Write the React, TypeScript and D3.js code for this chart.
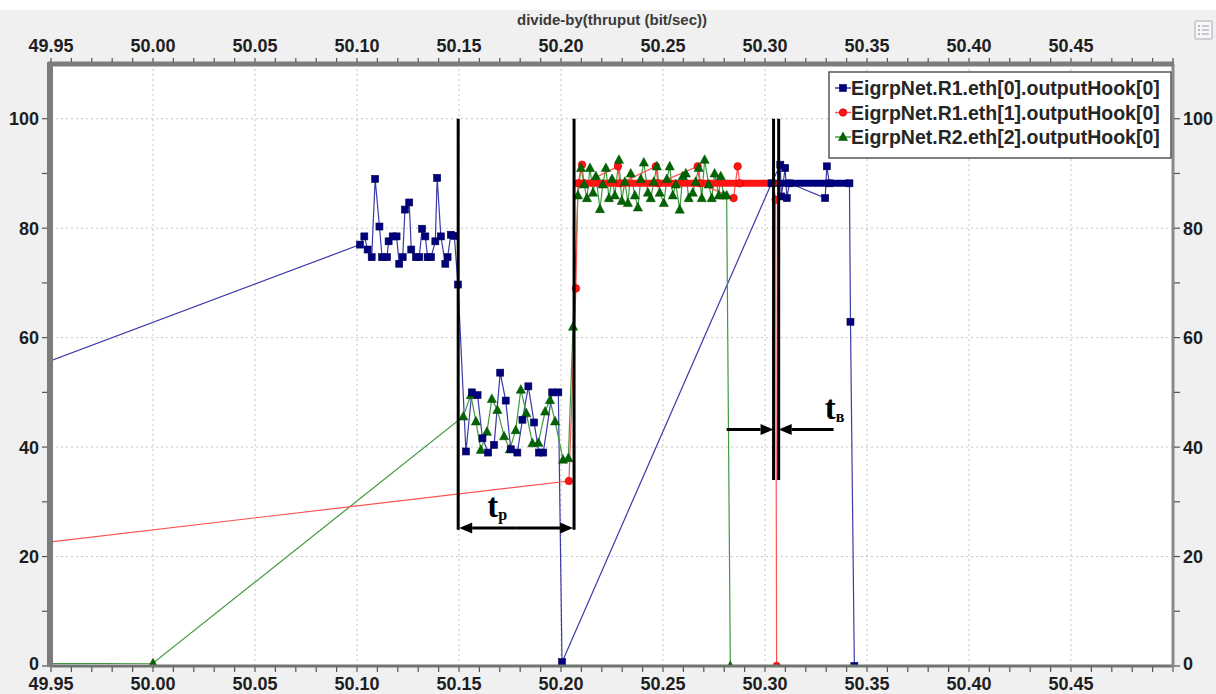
import React from 'react';
import * as d3 from 'd3';

const W = 1216;
const H = 694;
const plot = { left: 51, right: 1173, top: 64, bottom: 666 };

const xDomain: [number, number] = [49.95, 50.5];
const yDomain: [number, number] = [0, 110];

const xMajorTicks = [49.95, 50.0, 50.05, 50.1, 50.15, 50.2, 50.25, 50.3, 50.35, 50.4, 50.45];
const xTickLabels = ['49.95', '50.00', '50.05', '50.10', '50.15', '50.20', '50.25', '50.30', '50.35', '50.40', '50.45'];
const yMajorTicks = [0, 20, 40, 60, 80, 100];
const yTickLabels = ['0', '20', '40', '60', '80', '100'];
const yMinorTicks = [10, 30, 50, 70, 90];

const chartTitle = 'divide-by(thruput (bit/sec))';
const seriesNames = [
  'EigrpNet.R1.eth[0].outputHook[0]',
  'EigrpNet.R1.eth[1].outputHook[0]',
  'EigrpNet.R2.eth[2].outputHook[0]',
];

// R1 eth[0]
const eth0Points: [number, number][] = [
  [49.9, 48.8],
  [50.1015, 77], [50.1036, 78.5], [50.1052, 76.1], [50.1072, 74.7], [50.1089, 89],
  [50.111, 80.3], [50.1123, 74.7], [50.1147, 74.7], [50.1155, 77.6], [50.1175, 78.5],
  [50.1194, 78.5], [50.1207, 73.5], [50.1224, 74.7], [50.1235, 83.4], [50.1256, 84.7],
  [50.1266, 76.1], [50.1289, 74.7], [50.1305, 74.7], [50.1319, 79.9], [50.1335, 78.5],
  [50.1346, 74.7], [50.1363, 74.7], [50.1384, 77.6], [50.1393, 89.2], [50.1411, 78.5],
  [50.1433, 73.5], [50.1444, 74.7], [50.146, 78.8], [50.1477, 78.6], [50.1495, 69.7],
  [50.1534, 39.2], [50.1563, 50], [50.1591, 49.5], [50.1615, 41.6], [50.1643, 39],
  [50.1672, 40.4], [50.1702, 53.6], [50.1729, 48.5], [50.1754, 39.6], [50.1786, 39],
  [50.1811, 45], [50.184, 51.1], [50.1868, 44.5], [50.1892, 39], [50.1913, 39],
  [50.1957, 50], [50.1987, 50], [50.2005, 0.7],
  [50.3032, 88.2], [50.3075, 91.6], [50.308, 85.8], [50.3099, 91], [50.3107, 85.5],
  [50.312, 88.2], [50.3295, 85.5], [50.3303, 91.3], [50.3316, 88.2], [50.3414, 88.2],
  [50.3419, 62.9], [50.3438, 0],
];

// R1 eth[1]
const eth1Points: [number, number][] = [
  [49.9, 20.5], [50.2039, 33.8], [50.2073, 69], [50.2083, 88.2], [50.2103, 91.6],
  [50.2113, 88.2], [50.2279, 91.3], [50.2289, 88.2], [50.2465, 91.3], [50.2475, 88.2],
  [50.267, 91.3], [50.268, 88.2], [50.2846, 85.5], [50.2866, 91.3], [50.2876, 88.2],
  [50.304, 88.2], [50.3052, 85.2], [50.3057, 0],
];

// R2 eth[2]
const eth2Points: [number, number][] = [
  [49.9, 0.4], [50.0, 0.5],
  [50.1521, 45.6], [50.1558, 49.5], [50.1583, 44.7], [50.1607, 39.5], [50.1637, 42.8],
  [50.1661, 48.8], [50.1688, 46.8], [50.1721, 42], [50.1749, 39.6], [50.1778, 43.1],
  [50.1803, 50.5], [50.183, 46.2], [50.186, 40.7], [50.1889, 40.8], [50.1922, 46.5],
  [50.1946, 48.6], [50.1971, 44.7], [50.201, 37.7], [50.2036, 38], [50.2059, 62],
  [50.2083, 86], [50.2098, 91], [50.2113, 88], [50.2127, 85.5], [50.2142, 91],
  [50.2157, 86.5], [50.2171, 89.5], [50.2191, 83.5], [50.2205, 88], [50.222, 91],
  [50.2235, 85.5], [50.225, 89], [50.2264, 86], [50.2284, 92.5], [50.2298, 85],
  [50.2313, 88.5], [50.2328, 84.6], [50.2342, 90], [50.2362, 86], [50.2377, 83.8],
  [50.2391, 89], [50.2406, 92], [50.2426, 86.5], [50.244, 85.5], [50.2455, 88.5],
  [50.247, 91.3], [50.2484, 86.5], [50.2504, 84.6], [50.2519, 89], [50.2533, 91.3],
  [50.2548, 86], [50.2563, 88], [50.2582, 83.4], [50.2597, 89.5], [50.2612, 90],
  [50.2626, 85.5], [50.2646, 86.5], [50.266, 88.5], [50.2675, 91], [50.269, 85.5],
  [50.2704, 92.5], [50.2724, 88], [50.2739, 85.5], [50.2753, 90], [50.2773, 86],
  [50.2783, 89.5], [50.2797, 86], [50.2812, 86], [50.283, 0],
];

// Runs of dense samples at a constant level: [start, end, value]
const eth0Steady: [number, number, number][] = [[50.3032, 50.3414, 88.2]];
const eth1Steady: [number, number, number][] = [[50.2083, 50.304, 88.2]];

// Timing annotations
const markerLines: [number, number, number][] = [
  [50.1496, 100, 24.9],
  [50.2064, 100, 24.9],
  [50.3042, 100, 34],
  [50.3067, 100, 34],
];
const tpArrow = { from: 50.1496, to: 50.2064, level: 25.2 };
const tvArrows = [
  { from: 50.2812, to: 50.3042, level: 43.2 },
  { from: 50.3336, to: 50.3067, level: 43.2 },
];
const annotationLabels = [
  { main: 't', sub: 'р', x: 50.1638, y: 27.3 },
  { main: 't', sub: 'в', x: 50.3293, y: 45.2 },
];

const colors = {
  eth0: '#00007f',
  eth0Line: '#3a3aa8',
  eth1: '#ff1414',
  eth1Line: '#ff5050',
  eth2: '#006400',
  eth2Line: '#3f9a3f',
};

const FONT = "'Liberation Sans', Arial, sans-serif";

function Square({ x, y }: { x: number; y: number }) {
  return <rect x={x - 3.5} y={y - 3.5} width={7} height={7} fill={colors.eth0} stroke="#000050" strokeWidth={0.6} />;
}
function Dot({ x, y }: { x: number; y: number }) {
  return <circle cx={x} cy={y} r={3.8} fill={colors.eth1} stroke="#c80000" strokeWidth={0.6} />;
}
function Tri({ x, y }: { x: number; y: number }) {
  return <path d={`M${x},${y - 5} L${x + 4.6},${y + 3.6} L${x - 4.6},${y + 3.6} Z`} fill={colors.eth2} stroke="#004a00" strokeWidth={0.5} />;
}

function Arrow({ x1, x2, y }: { x1: number; x2: number; y: number }) {
  const dir = Math.sign(x2 - x1);
  const headLen = 13;
  const headHalf = 5.5;
  return (
    <g>
      <line x1={x1} y1={y} x2={x2 - dir * headLen} y2={y} stroke="#000" strokeWidth={3} />
      <path d={`M${x2},${y} L${x2 - dir * headLen},${y - headHalf} L${x2 - dir * headLen},${y + headHalf} Z`} fill="#000" />
    </g>
  );
}

export default function App() {
  const x = d3.scaleLinear().domain(xDomain).range([plot.left, plot.right]);
  const y = d3.scaleLinear().domain(yDomain).range([plot.bottom, plot.top]);
  const line = d3
    .line<[number, number]>()
    .x((d) => x(d[0]))
    .y((d) => y(d[1]));

  const xMinorTicks = d3.range(0, 56).map((i) => 49.95 + i * 0.01);
  const gridX = xMajorTicks.slice(1);
  const gridY = yMajorTicks.slice(1);

  const inView = (d: [number, number]) => d[0] >= xDomain[0] && d[0] <= xDomain[1];

  return (
    <>
      <style>{`body{margin:0;background:#f0f0f0}`}</style>
      <svg width={W} height={H} style={{ display: 'block', fontFamily: FONT }}>
        <defs>
          <clipPath id="plotClip">
            <rect x={plot.left} y={plot.top} width={plot.right - plot.left} height={plot.bottom - plot.top} />
          </clipPath>
        </defs>
        <rect x={0} y={0} width={W} height={H} fill="#f0f0f0" />
        <rect x={0} y={0} width={W} height={10} fill="#ffffff" />

        {/* title */}
        <text x={612} y={25} textAnchor="middle" fontSize={15} fontWeight="bold" fill="#3a3a3a">
          {chartTitle}
        </text>

        {/* option icon */}
        <g>
          <rect x={1195} y={21} width={17} height={18} fill="#f7f7f7" stroke="#a8a8b8" strokeWidth={1} rx={1} />
          {[26, 30, 34].map((yy) => (
            <g key={yy}>
              <line x1={1198} y1={yy} x2={1200} y2={yy} stroke="#7a7a9a" strokeWidth={1.2} />
              <line x1={1202} y1={yy} x2={1209} y2={yy} stroke="#9a9ab0" strokeWidth={1} />
            </g>
          ))}
        </g>

        {/* plot area */}
        <rect x={plot.left} y={plot.top} width={plot.right - plot.left} height={plot.bottom - plot.top} fill="#ffffff" />

        {/* grid */}
        <g stroke="#c4c4c4" strokeWidth={1} strokeDasharray="2,3">
          {gridX.map((v) => (
            <line key={`gx${v}`} x1={x(v)} x2={x(v)} y1={plot.top} y2={plot.bottom} />
          ))}
          {gridY.map((v) => (
            <line key={`gy${v}`} x1={plot.left} x2={plot.right} y1={y(v)} y2={y(v)} />
          ))}
        </g>

        <g clipPath="url(#plotClip)">
          {/* connecting lines */}
          <path d={line(eth0Points) || ''} fill="none" stroke={colors.eth0Line} strokeWidth={1.2} />
          <path d={line(eth2Points) || ''} fill="none" stroke={colors.eth2Line} strokeWidth={1.2} />
          <path d={line(eth1Points) || ''} fill="none" stroke={colors.eth1Line} strokeWidth={1.2} />

          {/* dense constant runs */}
          {eth1Steady.map(([a, b, v], i) => (
            <line key={`s1${i}`} x1={x(a)} x2={x(b)} y1={y(v)} y2={y(v)} stroke={colors.eth1} strokeWidth={7} />
          ))}
          {eth0Steady.map(([a, b, v], i) => (
            <line key={`s0${i}`} x1={x(a)} x2={x(b)} y1={y(v)} y2={y(v)} stroke={colors.eth0} strokeWidth={7} />
          ))}

          {/* markers */}
          {eth1Points.filter(inView).map((d, i) => (
            <Dot key={`m1${i}`} x={x(d[0])} y={y(d[1])} />
          ))}
          {eth2Points.filter(inView).map((d, i) => (
            <Tri key={`m2${i}`} x={x(d[0])} y={y(d[1])} />
          ))}
          {eth0Points.filter(inView).map((d, i) => (
            <Square key={`m0${i}`} x={x(d[0])} y={y(d[1])} />
          ))}
        </g>

        {/* timing annotations */}
        <g>
          {markerLines.map(([t, top, bottom], i) => (
            <line key={`ml${i}`} x1={x(t)} x2={x(t)} y1={y(top)} y2={y(bottom)} stroke="#000" strokeWidth={3} />
          ))}
          <Arrow x1={(x(tpArrow.from) + x(tpArrow.to)) / 2} x2={x(tpArrow.from) + 1} y={y(tpArrow.level)} />
          <Arrow x1={(x(tpArrow.from) + x(tpArrow.to)) / 2} x2={x(tpArrow.to) - 1} y={y(tpArrow.level)} />
          {tvArrows.map((a, i) => (
            <Arrow key={`ta${i}`} x1={x(a.from)} x2={x(a.to)} y={y(a.level)} />
          ))}
          {annotationLabels.map((l, i) => (
            <text key={`al${i}`} x={x(l.x)} y={y(l.y)} fontFamily="'Liberation Serif', 'Times New Roman', serif" fontWeight="bold" fontSize={33} fill="#000">
              {l.main}
              <tspan fontSize={16} dy={3}>
                {l.sub}
              </tspan>
            </text>
          ))}
        </g>

        {/* frame */}
        <line x1={plot.left} x2={plot.right} y1={plot.bottom} y2={plot.bottom} stroke="#6e756e" strokeWidth={3} />
        <line x1={plot.right} x2={plot.right} y1={plot.top} y2={plot.bottom + 1} stroke="#8a8a8a" strokeWidth={3} />
        <line x1={plot.left - 3} x2={plot.right + 1} y1={plot.top} y2={plot.top} stroke="#7c7c7c" strokeWidth={5} />
        <line x1={plot.left - 1} x2={plot.left - 1} y1={plot.top - 2} y2={plot.bottom + 1} stroke="#7c7c7c" strokeWidth={6} />

        {/* x ticks top and bottom */}
        <g stroke="#555" strokeWidth={1.2}>
          {xMinorTicks.map((v, i) => (
            <g key={`xt${i}`}>
              <line x1={x(v)} x2={x(v)} y1={plot.top - 2} y2={plot.top - 6} />
              <line x1={x(v)} x2={x(v)} y1={plot.bottom + 1} y2={plot.bottom + 6} />
            </g>
          ))}
        </g>
        {xMajorTicks.map((v, i) => (
          <g key={`xl${i}`}>
            <text x={x(v)} y={52} textAnchor="middle" fontSize={18} fontWeight="bold" fill="#1e1e1e">
              {xTickLabels[i]}
            </text>
            <text x={x(v)} y={690} textAnchor="middle" fontSize={18} fontWeight="bold" fill="#1e1e1e">
              {xTickLabels[i]}
            </text>
          </g>
        ))}

        {/* y ticks left and right */}
        <g stroke="#555" strokeWidth={1.2}>
          {[...yMajorTicks, ...yMinorTicks].map((v) => (
            <g key={`yt${v}`}>
              <line x1={plot.left - 4} x2={plot.left - 9} y1={y(v)} y2={y(v)} />
              <line x1={plot.right + 1} x2={plot.right + 7} y1={y(v)} y2={y(v)} />
            </g>
          ))}
        </g>
        {yMajorTicks.map((v, i) => (
          <g key={`yl${v}`}>
            <text x={39} y={y(v)} dy={v === 0 ? '0.2em' : '0.36em'} textAnchor="end" fontSize={18} fontWeight="bold" fill="#1e1e1e">
              {yTickLabels[i]}
            </text>
            <text x={1183} y={y(v)} dy={v === 0 ? '0.2em' : '0.36em'} textAnchor="start" fontSize={18} fontWeight="bold" fill="#1e1e1e">
              {yTickLabels[i]}
            </text>
          </g>
        ))}

        {/* legend */}
        <g>
          <rect x={829} y={72} width={342} height={86} fill="#ffffff" stroke="#555" strokeWidth={1.5} />
          {seriesNames.map((name, i) => {
            const cy = 88 + i * 24.5;
            const lx = 843;
            return (
              <g key={name}>
                <line x1={835} x2={851} y1={cy} y2={cy} stroke={[colors.eth0Line, colors.eth1Line, colors.eth2Line][i]} strokeWidth={1.5} />
                {i === 0 && <Square x={lx} y={cy} />}
                {i === 1 && <Dot x={lx} y={cy} />}
                {i === 2 && <Tri x={lx} y={cy} />}
                <text x={851} y={cy} dy="0.36em" fontSize={19.5} fontWeight="bold" fill="#262626">
                  {name}
                </text>
              </g>
            );
          })}
        </g>
      </svg>
    </>
  );
}
